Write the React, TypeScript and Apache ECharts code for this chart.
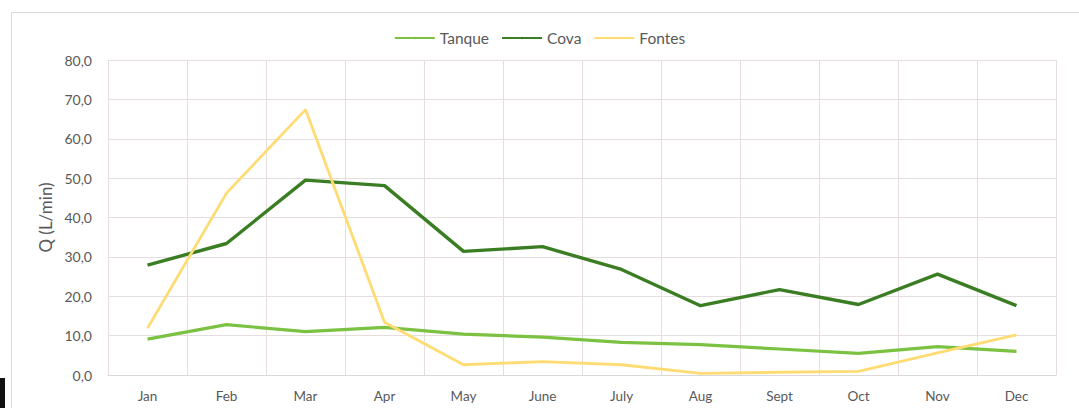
import React, { useEffect, useRef } from "react";
import * as echarts from "echarts";

const months = ["Jan", "Feb", "Mar", "Apr", "May", "June", "July", "Aug", "Sept", "Oct", "Nov", "Dec"];
const tanque = [9.1, 12.8, 11.0, 12.1, 10.4, 9.6, 8.3, 7.7, 6.6, 5.5, 7.2, 6.0];
const cova = [27.9, 33.4, 49.5, 48.1, 31.4, 32.6, 26.8, 17.6, 21.7, 17.9, 25.6, 17.6];
const fontes = [11.9, 46.2, 67.4, 13.4, 2.6, 3.4, 2.6, 0.4, 0.7, 0.9, 5.6, 10.2];

const FONT = "Lato, 'Open Sans', sans-serif";
const TEXT = "#595959";

export default function App() {
  const ref = useRef<HTMLDivElement>(null);
  useEffect(() => {
    if (!ref.current) return;
    const chart = echarts.init(ref.current, null, { renderer: "svg" });
    chart.setOption({
      animation: false,
      backgroundColor: "#ffffff",
      textStyle: { fontFamily: FONT },
      graphic: [
        {
          type: "rect",
          left: 9,
          top: 10,
          shape: { x: 0, y: 0, width: 1080, height: 410 },
          style: { fill: "none", stroke: "#d9d9d9", lineWidth: 1 },
          silent: true,
        },
        {
          type: "rect",
          shape: { x: 0, y: 378, width: 5, height: 30 },
          style: { fill: "#111111" },
          silent: true,
        },
      ],
      legend: {
        top: 25,
        left: "center",
        itemWidth: 40,
        itemHeight: 3,
        itemGap: 12,
        textStyle: { color: TEXT, fontSize: 15.5, fontFamily: FONT },
        data: ["Tanque", "Cova", "Fontes"],
      },
      grid: { left: 108, right: 23, top: 60, bottom: 33 },
      xAxis: {
        type: "category",
        data: months,
        boundaryGap: true,
        axisLine: { show: true, lineStyle: { color: "#d9d9d9" } },
        axisTick: { show: false },
        axisLabel: { color: TEXT, fontSize: 13.5, margin: 14, fontFamily: FONT },
        splitLine: { show: true, lineStyle: { color: "#e6dede", width: 1 } },
      },
      yAxis: {
        type: "value",
        min: 0,
        max: 80,
        interval: 10,
        name: "Q (L/min)",
        nameLocation: "middle",
        nameGap: 53,
        nameTextStyle: { color: TEXT, fontSize: 17, fontFamily: FONT },
        axisLine: { show: true, lineStyle: { color: "#e6dede" } },
        axisTick: { show: false },
        axisLabel: {
          color: TEXT,
          fontSize: 14,
          margin: 16,
          fontFamily: FONT,
          formatter: (v: number) => v.toFixed(1).replace(".", ","),
        },
        splitLine: { show: true, lineStyle: { color: "#e6dede", width: 1 } },
      },
      series: [
        {
          name: "Tanque",
          type: "line",
          data: tanque,
          symbol: "none",
          color: "#7cc242",
          lineStyle: { width: 3.2, color: "#7cc242" },
        },
        {
          name: "Cova",
          type: "line",
          data: cova,
          symbol: "none",
          color: "#3b7d23",
          lineStyle: { width: 3.4, color: "#3b7d23" },
        },
        {
          name: "Fontes",
          type: "line",
          data: fontes,
          symbol: "none",
          color: "#ffdc73",
          lineStyle: { width: 2.8, color: "#ffdc73" },
        },
      ],
    });
    return () => chart.dispose();
  }, []);
  return (
    <div
      ref={ref}
      style={{ position: "fixed", left: 0, top: 0, width: 1079, height: 408 }}
    />
  );
}
